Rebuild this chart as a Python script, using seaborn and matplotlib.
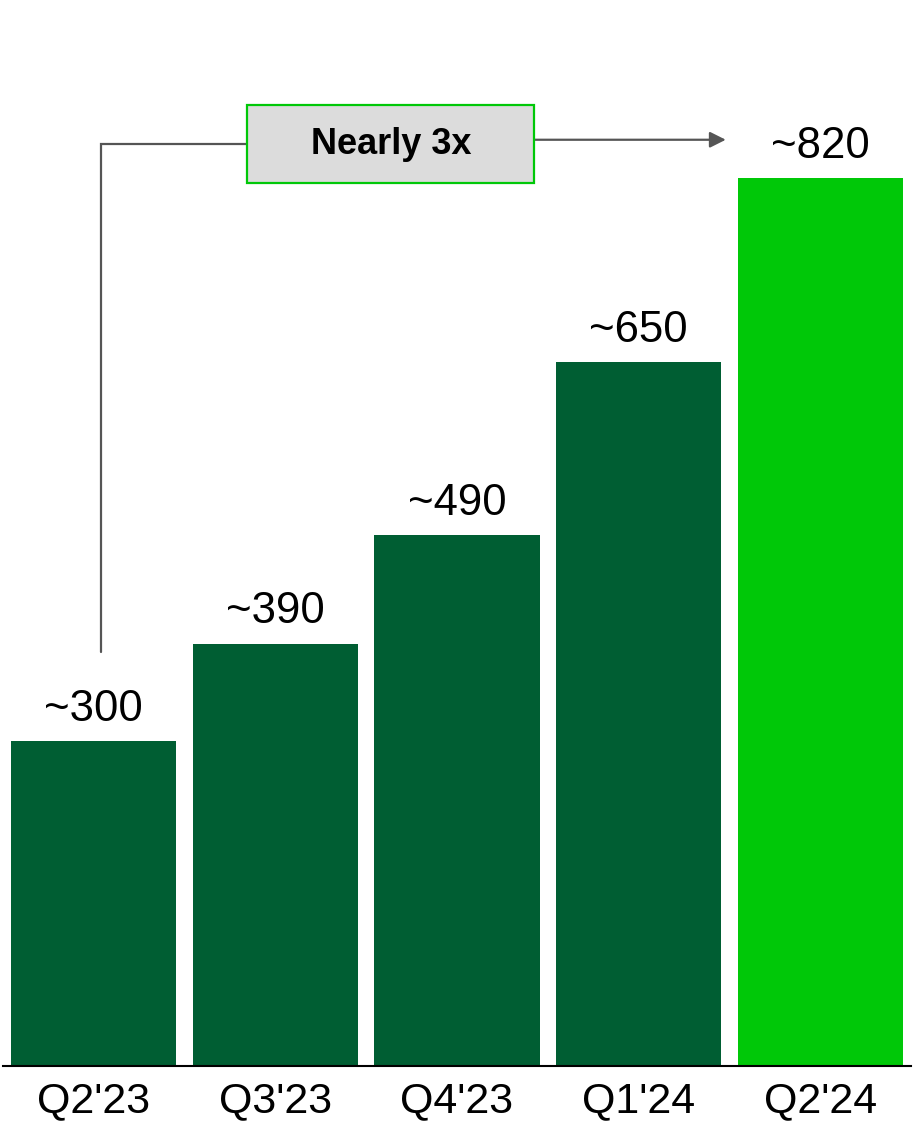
import matplotlib
matplotlib.use('Agg')
import matplotlib.pyplot as plt
from matplotlib.patches import Rectangle
import seaborn as sb

quarters = ["Q2'23", "Q3'23", "Q4'23", "Q1'24", "Q2'24"]
values = [300, 390, 490, 650, 820]
labels = ['~300', '~390', '~490', '~650', '~820']
bar_colors = ['#005E33', '#005E33', '#005E33', '#005E33', '#00C808']
callout = 'Nearly 3x'

sb.set_theme(style='white')
plt.rcParams['font.family'] = ['Liberation Sans', 'DejaVu Sans']

fig = plt.figure(figsize=(9.14, 11.23), dpi=100)
ax = fig.add_axes([3 / 914, 1 - 1066 / 1123, 908 / 914, 1066 / 1123])

sb.barplot(x=quarters, y=values, hue=quarters, palette=bar_colors,
           width=0.91, legend=False, saturation=1, linewidth=0, ax=ax)
ax.set_xlim(-0.5, 4.5)
ax.set_ylim(0, 984)

for side in ['top', 'left', 'right']:
    ax.spines[side].set_visible(False)
ax.spines['bottom'].set_color('black')
ax.spines['bottom'].set_linewidth(1.5)
ax.set_yticks([])
ax.set_xlabel('')
ax.set_ylabel('')
ax.tick_params(axis='x', length=0, pad=11, labelsize=31, labelcolor='black')

for i, (v, lab) in enumerate(zip(values, labels)):
    ax.annotate(lab, (i, v), xytext=(0, 14.5), textcoords='offset points',
                ha='center', va='baseline', fontsize=31.5, color='black')

# connector from first bar to last bar, with the callout box in between
line_c = '#555555'
box_l, box_r = 0.845, 2.426
box_y = values[-1] + 31
y_left = values[-1] + 31
y_right = values[-1] + 35
ax.plot([0.04, 0.04, box_l], [values[0] + 82, y_left, y_left],
        color=line_c, lw=1.6, solid_joinstyle='miter', zorder=1)
ax.annotate('', xy=(3.48, y_right), xytext=(box_r, y_right), zorder=1,
            arrowprops=dict(arrowstyle='-|>,head_length=0.8,head_width=0.4',
                            color=line_c, lw=1.6, shrinkA=0, shrinkB=0))
ax.add_patch(Rectangle((box_l, box_y - 36), box_r - box_l, 72,
                       facecolor='#DCDCDC', edgecolor='#00C808', lw=1.6, zorder=2))
ax.text((box_l + box_r) / 2, box_y, callout, ha='center', va='center',
        fontsize=26, fontweight='bold', color='black', zorder=3)

fig.savefig('out.png', dpi=100)
